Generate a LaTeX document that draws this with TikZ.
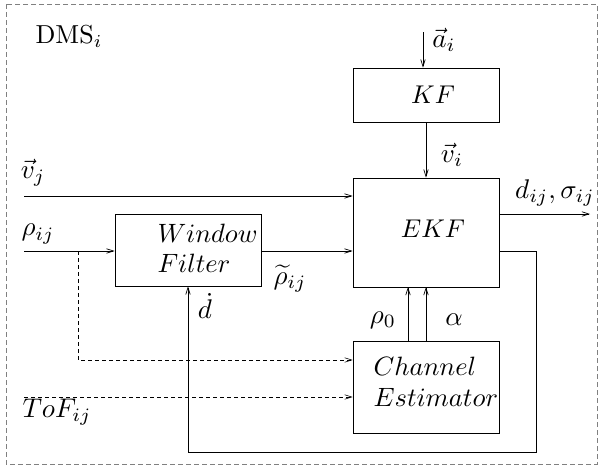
\documentclass[tikz,border=0pt]{standalone}
\usetikzlibrary{arrows.meta}
\begin{document}
\begin{tikzpicture}[x=1pt,y=-1pt,
  blk/.style={draw, line width=0.7pt, minimum width=146pt, anchor=center, inner sep=0pt},
  conn/.style={line width=0.7pt, -{Straight Barb[length=7pt,width=4.5pt]}},
  dconn/.style={line width=0.6pt, dash pattern=on 4pt off 3pt, -{Straight Barb[length=7pt,width=4.5pt]}},
  txt/.style={anchor=center, inner sep=0pt, scale=2.7},
  btxt/.style={anchor=base west, inner sep=0pt, scale=2.65}]
\useasboundingbox (0,0) rectangle (603,466);
\draw[gray, line width=0.6pt, dash pattern=on 5pt off 3pt] (6,4) rectangle (597,464);
\node[anchor=center, inner sep=0pt, scale=2.6] (dms) at (69,36) {DMS$_i$};
% boxes
\node[blk, minimum height=54pt] (kf) at (426,95) {};
\node[blk, minimum height=109pt] (ekf) at (426,232.5) {};
\node[blk, minimum height=72pt] (wf) at (188,250) {};
\node[blk, minimum height=92pt] (ce) at (426,387) {};
% box texts
\node[txt, scale=0.95] (kft) at (433,95) {$KF$};
\node[txt, scale=0.95] (ekft) at (433,229) {$EKF$};
\node[btxt] (wft1) at (157,242) {$Window$};
\node[btxt] (wft2) at (157,272) {$Filter$};
\node[btxt] (cet1) at (373,375) {$Channel$};
\node[btxt] (cet2) at (373,406) {$Estimator$};
% coordinates
\coordinate (ain) at (423,32);
\coordinate (vjin) at (24,196);
\coordinate (rhoin) at (24,251);
\coordinate (tofin) at (24,397);
\coordinate (dout) at (590,214);
\coordinate (split) at (78,251);
\coordinate (fb1) at (536,251);
\coordinate (fb2) at (536,452);
\coordinate (fb3) at (188,452);
% connectors
\draw[conn] (ain) -- (ain |- kf.north);
\draw[conn] (kf.south) -- (ekf.north);
\draw[conn] (vjin) -- (vjin -| ekf.west);
\draw[conn] (ekf.east |- dout) -- (dout);
\draw[conn] (rhoin) -- (rhoin -| wf.west);
\draw[conn] (wf.east |- rhoin) -- (rhoin -| ekf.west);
\draw[conn] (ekf.east |- fb1) -- (fb1) -- (fb2) -- (fb3) -- (wf.south);
\draw[dconn] (split) -- (78,360) -- (ce.west |- 0,360);
\draw[dconn] (tofin) -- (tofin -| ce.west);
\draw[conn] (408,341) -- (408,287);
\draw[conn] (426,341) -- (426,287);
% labels
\node[txt] (la) at (444,40) {$\vec{a}_i$};
\node[txt] (lvi) at (452,155) {$\vec{v}_i$};
\node[txt] (ld) at (555,193) {$d_{ij},\sigma_{ij}$};
\node[txt] (lvj) at (33,173) {$\vec{v}_j$};
\node[txt] (lrho) at (38,234) {$\rho_{ij}$};
\node[txt] (lrt) at (290,279) {$\widetilde{\rho}_{ij}$};
\node[txt] (ldd) at (205,306) {$\dot{d}$};
\node[txt] (ltof) at (57,412) {$ToF_{ij}$};
\node[txt] (lr0) at (383,320) {$\rho_0$};
\node[txt] (lal) at (454,320) {$\alpha$};
\end{tikzpicture}
\end{document}
